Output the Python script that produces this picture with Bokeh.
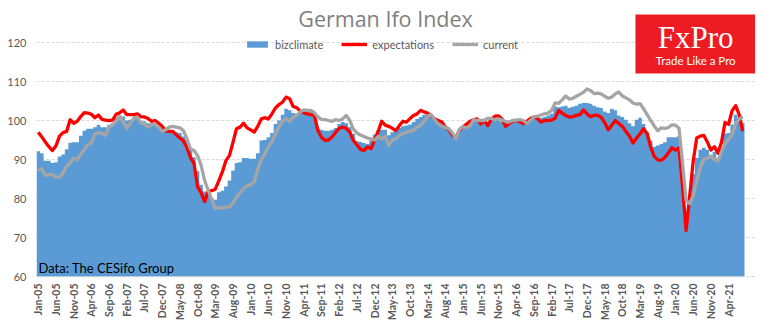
import math
from bokeh.plotting import figure
from bokeh.models import (Range1d, FixedTicker, Legend, LegendItem, Label,
                          BoxAnnotation, ColumnDataSource)
from bokeh.embed import file_html
from bokeh.resources import INLINE

# ---------------- data (monthly, Jan 2005 .. Aug 2021) ----------------
TICK_LABELS = ["Jan-05", "Jun-05", "Nov-05", "Apr-06", "Sep-06", "Feb-07", "Jul-07", "Dec-07",
               "May-08", "Oct-08", "Mar-09", "Aug-09", "Jan-10", "Jun-10", "Nov-10", "Apr-11",
               "Sep-11", "Feb-12", "Jul-12", "Dec-12", "May-13", "Oct-13", "Mar-14", "Aug-14",
               "Jan-15", "Jun-15", "Nov-15", "Apr-16", "Sep-16", "Feb-17", "Jul-17", "Dec-17",
               "May-18", "Oct-18", "Mar-19", "Aug-19", "Jan-20", "Jun-20", "Nov-20", "Apr-21"]
TICK_STEP = 5

bizclimate = [
    92.1, 91.6, 89.7, 89.7, 89.1, 89.3, 90.8, 91.3, 92.6, 94.3,
    94.4, 94.4, 96.1, 97.4, 97.9, 97.9, 98.3, 98.9, 98.3, 98.3,
    98.9, 99.3, 100.7, 101.3, 101.0, 100.0, 100.2, 100.7, 100.9, 99.8,
    99.8, 99.3, 99.3, 99.1, 98.7, 98.3, 97.6, 97.4, 97.4, 97.0,
    96.8, 95.9, 95.0, 92.7, 90.6, 87.0, 83.5, 81.8, 81.3, 80.0,
    79.7, 81.6, 82.0, 83.1, 84.6, 87.2, 89.1, 89.3, 90.4, 90.4,
    90.2, 90.2, 91.6, 94.9, 95.0, 95.7, 96.8, 99.1, 100.0, 101.5,
    103.0, 102.6, 101.9, 101.7, 102.1, 102.4, 102.1, 102.1, 101.5, 97.9,
    97.6, 97.4, 97.4, 97.6, 98.1, 99.1, 99.6, 99.3, 98.3, 96.6,
    94.7, 94.5, 94.2, 94.0, 94.9, 96.4, 97.4, 97.6, 97.6, 96.2,
    97.0, 97.4, 98.1, 98.5, 98.7, 99.0, 99.6, 100.4, 100.9, 101.5,
    101.7, 101.3, 100.0, 99.6, 98.7, 98.5, 97.6, 96.2, 95.8, 97.7,
    98.7, 99.0, 99.6, 100.2, 100.2, 99.8, 100.0, 99.6, 100.2, 100.7,
    100.4, 99.6, 99.0, 99.6, 99.8, 100.0, 99.8, 99.6, 99.8, 100.4,
    101.0, 101.0, 100.7, 100.9, 101.3, 101.7, 103.6, 103.4, 103.6, 103.8,
    103.3, 103.5, 103.8, 104.3, 104.5, 104.5, 104.3, 103.8, 103.4, 103.2,
    102.3, 101.9, 103.0, 102.6, 101.3, 100.9, 100.2, 99.3, 98.5, 100.2,
    100.7, 99.1, 97.0, 94.9, 93.3, 93.6, 94.0, 94.4, 95.7, 95.7,
    95.7, 96.0, 86.5, 74.2, 79.7, 86.3, 90.4, 92.5, 93.0, 92.5,
    90.9, 92.0, 90.3, 92.5, 96.6, 96.8, 99.0, 101.5, 100.6, 99.4,
]

expectations = [
    97.0, 95.8, 94.5, 93.3, 92.3, 93.5, 96.0, 96.9, 97.2, 100.2,
    99.3, 99.8, 101.0, 102.0, 101.9, 101.6, 100.7, 101.4, 100.3, 100.1,
    100.0, 100.1, 101.6, 102.0, 102.7, 101.5, 101.5, 101.5, 101.7, 101.0,
    100.9, 100.5, 99.8, 100.0, 99.3, 98.5, 97.3, 97.2, 97.2, 96.3,
    95.5, 94.8, 93.0, 90.5, 89.0, 83.0, 81.5, 79.2, 81.8, 82.0,
    82.4, 84.5, 86.8, 89.7, 91.0, 94.4, 97.9, 98.3, 99.3, 98.1,
    97.6, 97.0, 98.5, 100.4, 100.7, 100.4, 101.7, 103.2, 104.1, 104.7,
    106.0, 105.6, 103.6, 103.3, 102.4, 102.0, 101.7, 101.5, 101.3, 97.4,
    95.7, 94.9, 95.0, 95.8, 97.0, 98.0, 98.3, 98.0, 97.0, 94.9,
    93.8, 92.6, 92.3, 93.2, 92.8, 95.0, 97.2, 99.8, 98.8, 98.5,
    98.0, 97.4, 98.7, 99.8, 99.6, 100.5, 101.3, 101.7, 102.6, 102.2,
    101.9, 101.2, 100.4, 100.0, 99.6, 98.3, 97.6, 96.2, 95.7, 97.5,
    98.4, 99.1, 99.8, 100.2, 100.4, 99.1, 100.0, 98.7, 100.4, 101.1,
    101.2, 100.4, 98.5, 99.2, 99.8, 100.0, 99.7, 99.2, 99.8, 100.5,
    100.9, 100.5, 99.6, 100.0, 100.0, 100.1, 100.6, 102.6, 101.9, 101.3,
    100.9, 101.0, 101.3, 101.5, 102.7, 101.7, 101.0, 101.3, 101.4, 100.8,
    99.5, 97.6, 98.8, 100.0, 99.2, 98.5, 97.2, 96.0, 94.2, 95.5,
    96.6, 97.9, 96.6, 93.2, 90.8, 89.9, 89.8, 90.5, 91.7, 93.0,
    92.4, 93.0, 83.0, 71.8, 80.5, 89.5, 95.5, 96.0, 96.2, 94.5,
    92.4, 93.3, 91.6, 94.4, 99.5, 99.0, 102.5, 103.8, 101.5, 97.3,
]

current = [
    87.2, 87.6, 85.9, 86.2, 86.1, 85.5, 85.5, 86.5, 88.2, 89.1,
    90.4, 89.9, 91.3, 92.5, 93.8, 94.2, 96.6, 96.8, 96.8, 96.2,
    98.3, 98.9, 99.8, 101.0, 99.6, 98.0, 99.3, 100.6, 100.9, 99.3,
    99.1, 98.3, 98.9, 99.1, 98.3, 97.3, 97.6, 98.3, 98.5, 98.3,
    98.1, 97.4, 95.3, 92.7, 92.3, 91.0, 88.5, 84.6, 82.1, 79.7,
    77.4, 77.8, 77.5, 77.8, 77.8, 78.9, 80.3, 81.5, 82.5, 83.3,
    83.5, 84.3, 87.5, 90.0, 91.4, 93.3, 94.6, 96.5, 98.4, 99.8,
    100.5, 99.8, 100.8, 101.3, 102.2, 102.7, 102.6, 102.6, 102.0, 100.9,
    100.3, 100.2, 100.0, 99.8, 100.2, 100.0, 100.4, 101.3, 100.0, 97.8,
    96.8, 96.3, 95.9, 95.5, 95.3, 95.0, 95.9, 95.3, 95.9, 93.6,
    95.0, 95.3, 96.2, 96.6, 97.0, 97.2, 97.6, 98.3, 98.8, 99.8,
    101.2, 101.5, 100.2, 99.1, 98.6, 98.2, 97.9, 96.8, 95.3, 97.8,
    98.4, 98.1, 98.7, 100.2, 100.0, 100.0, 100.0, 100.6, 100.5, 100.2,
    100.4, 100.1, 99.8, 99.6, 100.0, 100.1, 100.2, 100.0, 99.3, 100.0,
    100.9, 101.1, 101.4, 101.7, 101.9, 102.6, 104.5, 104.4, 105.3, 106.3,
    105.5, 105.7, 106.2, 106.7, 107.2, 108.1, 107.7, 106.9, 107.0, 106.8,
    106.2, 105.7, 106.0, 106.8, 107.3, 106.3, 105.8, 105.3, 104.5, 104.2,
    104.3, 103.0, 101.5, 100.0, 98.6, 97.4, 98.1, 98.0, 98.2, 98.9,
    98.8, 98.0, 89.0, 79.5, 78.7, 80.7, 84.5, 88.0, 90.0, 90.4,
    90.9, 90.0, 89.6, 92.0, 94.0, 95.2, 96.3, 99.3, 100.3, 101.0,
]

Y_TICKS = [60, 70, 80, 90, 100, 110, 120]

# ---------------- figure ----------------
n = len(bizclimate)
month_idx = list(range(n))
src = ColumnDataSource(dict(x=month_idx, exp=expectations, cur=current))

# bars as one stepped area (one flat step per month, no seams between bars)
bar_src = ColumnDataSource(dict(
    xl=[i - 0.5 for i in month_idx] + [n - 0.5],
    top=bizclimate + [bizclimate[-1]],
))

Y0 = 60
PX_PER_UNIT = 3.9
PX_PER_MONTH = 3.54
x_end = -0.5 + 719 / PX_PER_MONTH
y_start = Y0 - 1 / PX_PER_UNIT
y_end = Y0 + 267 / PX_PER_UNIT

p = figure(width=770, height=330, output_backend="svg", toolbar_location=None,
           x_range=Range1d(-0.5, x_end), y_range=Range1d(y_start, y_end),
           min_border_left=36, min_border_right=15, min_border_top=9, min_border_bottom=53)
p.outline_line_color = None
p.background_fill_color = "white"
p.border_fill_color = "white"

BLUE = "#5b9bd5"
RED = "#ff0000"
GRAY = "#a5a5a5"
TXT = "#595959"

bars = p.varea_step(x="xl", y1=Y0, y2="top", step_mode="after", source=bar_src,
                    fill_color=BLUE)
l_exp = p.line(x="x", y="exp", source=src, line_color=RED, line_width=3.3, line_join="round")
l_cur = p.line(x="x", y="cur", source=src, line_color=GRAY, line_width=3.3, line_join="round")

# baseline under the bars
p.segment(x0=[-0.5], y0=[Y0 - 0.13], x1=[n - 0.5], y1=[Y0 - 0.13], line_color="#d9d9d9", line_width=1.2)

# axes
p.yaxis.ticker = FixedTicker(ticks=Y_TICKS)
p.yaxis.axis_line_color = None
p.yaxis.major_tick_line_color = None
p.yaxis.minor_tick_line_color = None
p.yaxis.major_tick_out = 0
p.yaxis.major_label_standoff = 10
p.yaxis.major_label_text_font = "Lato"
p.yaxis.major_label_text_font_size = "11px"
p.yaxis.major_label_text_color = TXT

tick_pos = [i * TICK_STEP for i in range(len(TICK_LABELS))]
p.xaxis.ticker = FixedTicker(ticks=tick_pos)
p.xaxis.major_label_overrides = {t: lab for t, lab in zip(tick_pos, TICK_LABELS)}
p.xaxis.major_label_orientation = math.pi / 2
p.xaxis.axis_line_color = None
p.xaxis.major_tick_line_color = None
p.xaxis.minor_tick_line_color = None
p.xaxis.major_tick_out = 0
p.xaxis.major_label_standoff = 6
p.xaxis.major_label_text_font = "Lato"
p.xaxis.major_label_text_font_style = "bold"
p.xaxis.major_label_text_font_size = "10.5px"
p.xaxis.major_label_text_color = TXT

p.xgrid.visible = False
p.ygrid.ticker = FixedTicker(ticks=Y_TICKS)
p.ygrid.grid_line_color = "#d9d9d9"
p.ygrid.grid_line_dash = "3 2"
p.ygrid.grid_line_width = 1

# legend
legend = Legend(items=[LegendItem(label="bizclimate", renderers=[bars]),
                       LegendItem(label="expectations", renderers=[l_exp]),
                       LegendItem(label="current", renderers=[l_cur])],
                orientation="horizontal", location=(208, 226),
                background_fill_alpha=0, border_line_alpha=0, padding=0, margin=0,
                spacing=18, glyph_width=26, glyph_height=8, label_standoff=5,
                label_text_font="Lato", label_text_font_size="11px",
                label_text_color=TXT, label_height=14)
p.add_layout(legend)

# title
p.add_layout(Label(x=98.1, y=126.15, text="German Ifo Index", text_align="center",
                   text_baseline="middle", text_font="Open Sans", text_font_size="21.5px",
                   text_color="#7f7f7f"))

# source note
p.add_layout(Label(x=-0.5, y=62.3, x_offset=2, text="Data: The CESifo Group", text_align="left",
                   text_baseline="middle", text_font="Lato", text_font_size="13px",
                   text_color="#000000"))

# FxPro logo
p.add_layout(BoxAnnotation(left=168.7, right=202.5, top=127.18, bottom=112.05,
                           fill_color="#ed1c24", fill_alpha=1.0, line_color=None))
p.add_layout(Label(x=185.7, y=121.2, text="FxPro", text_align="center",
                   text_baseline="alphabetic", text_font="Liberation Serif",
                   text_font_size="31px", text_color="white"))
p.add_layout(Label(x=185.7, y=115.4, text="Trade Like a Pro", text_align="center",
                   text_baseline="alphabetic", text_font="Lato",
                   text_font_size="11.5px", text_color="white"))

open("out.html", "w").write(file_html(p, INLINE))
